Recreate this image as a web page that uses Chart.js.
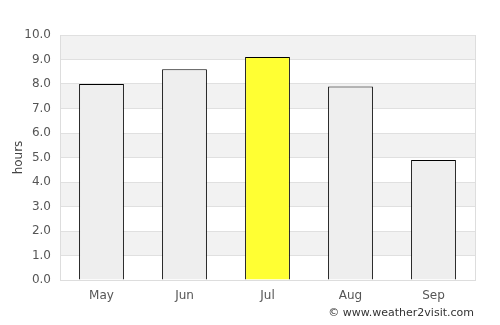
<!DOCTYPE html>
<html><head><meta charset="utf-8">
<script src="https://cdn.jsdelivr.net/npm/chart.js@4/dist/chart.umd.min.js"></script>
<style>html,body{margin:0;padding:0;background:#fff}#wrap{width:500px;height:325px;position:relative}</style>
</head><body><div id="wrap"><canvas id="c" width="500" height="325"></canvas></div>
<script>
const categories = ["May", "Jun", "Jul", "Aug", "Sep"];
const sunHours = [8.0, 8.6, 9.1, 7.9, 4.9];
const barColors = ["#eeeeee", "#eeeeee", "#ffff33", "#eeeeee", "#eeeeee"];
const yTicks = [0,1,2,3,4,5,6,7,8,9,10];
const FONT = "'DejaVu Sans', sans-serif";

const bands = {
  id: 'bands',
  beforeDraw(chart) {
    const {ctx, chartArea: a, scales: {y}} = chart;
    ctx.save();
    ctx.fillStyle = '#f2f2f2';
    for (let v = 1; v < 10; v += 2) {
      const t = y.getPixelForValue(v + 1), b = y.getPixelForValue(v);
      ctx.fillRect(a.left, t, a.right - a.left, b - t);
    }
    ctx.restore();
  },
  afterDraw(chart) {
    const {ctx, chartArea: a} = chart;
    ctx.save();
    ctx.strokeStyle = '#dddddd';
    ctx.lineWidth = 1;
    ctx.beginPath();
    ctx.moveTo(a.right + 0.5, a.top); ctx.lineTo(a.right + 0.5, a.bottom);
    ctx.stroke();
    ctx.font = "11px " + FONT;
    ctx.fillStyle = '#333';
    ctx.textAlign = 'right';
    ctx.textBaseline = 'middle';
    ctx.fillText('© www.weather2visit.com', 474, 313);
    ctx.restore();
  }
};

new Chart(document.getElementById('c'), {
  type: 'bar',
  data: { labels: categories, datasets: [{ data: sunHours, backgroundColor: barColors, borderColor: '#000', borderWidth: 1, categoryPercentage: 1, barPercentage: 0.54 }] },
  options: {
    responsive: false, animation: false, devicePixelRatio: 1,
    layout: { padding: { top: 35, right: 25, left: 0, bottom: 0 } },
    plugins: { legend: { display: false }, tooltip: { enabled: false } },
    scales: {
      x: {
        grid: { display: false, drawTicks: false },
        border: { color: '#dddddd' },
        ticks: { color: '#555', font: { family: FONT, size: 12 }, padding: 9 },
        afterFit(s) { s.height = 45; }
      },
      y: {
        min: 0, max: 10,
        afterBuildTicks(s) { s.ticks = yTicks.map(v => ({ value: v })); },
        grid: { color: '#e0e0e0', drawTicks: false },
        border: { color: '#dddddd' },
        ticks: { color: '#555', font: { family: FONT, size: 12 }, padding: 9, callback: v => Number(v).toFixed(1) },
        title: { display: true, text: 'hours', color: '#444', font: { family: FONT, size: 12 }, padding: { top: 12, bottom: 0 } },
        afterFit(s) { s.width = 60; }
      }
    }
  },
  plugins: [bands]
});
</script></body></html>
